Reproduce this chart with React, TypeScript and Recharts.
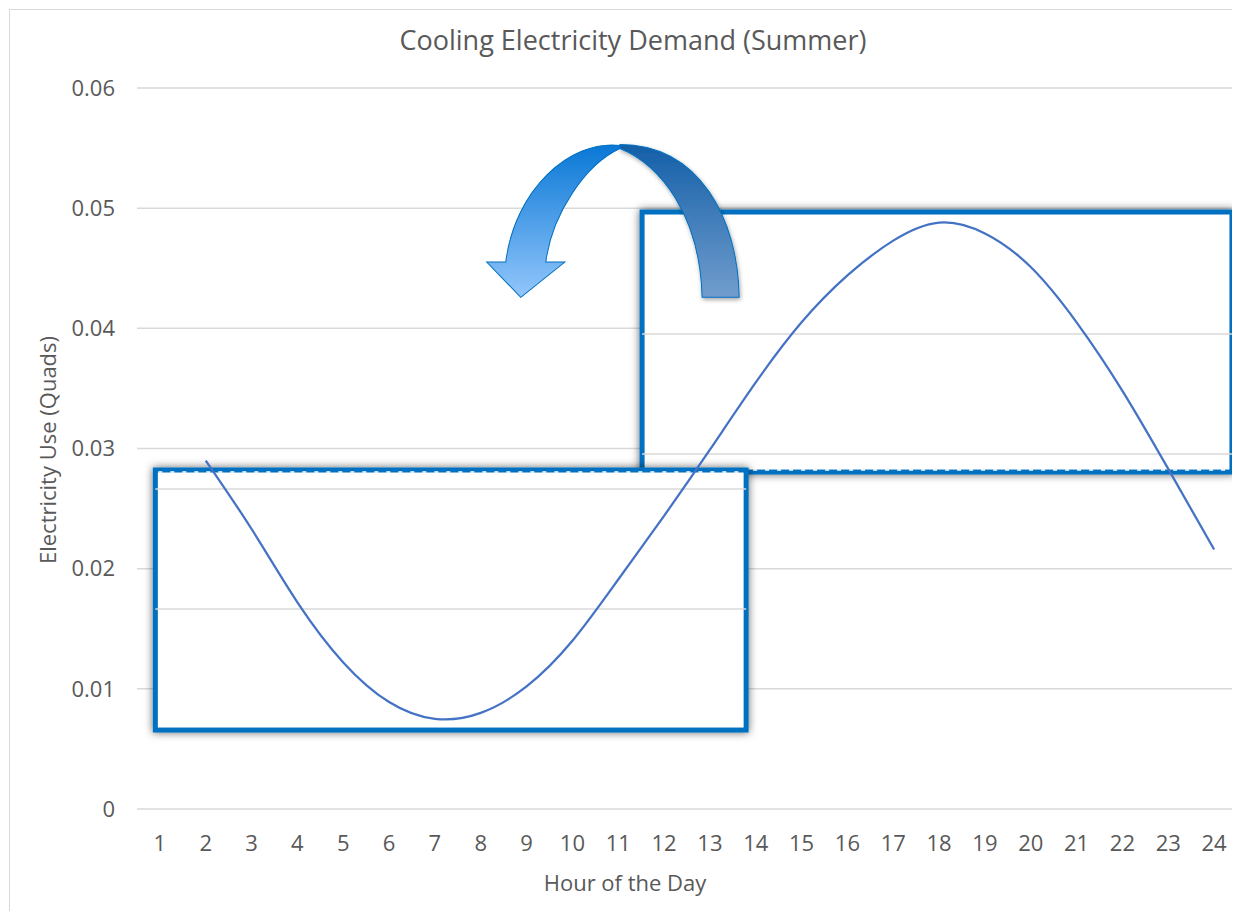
import React from 'react';
import { LineChart, Line, XAxis, YAxis, CartesianGrid, ReferenceArea, ReferenceLine } from 'recharts';

const hours = [1, 2, 3, 4, 5, 6, 7, 8, 9, 10, 11, 12, 13, 14, 15, 16, 17, 18, 19, 20, 21, 22, 23, 24];
const demand = [
  null, 0.0290, 0.0233, 0.0172, 0.0122, 0.0089, 0.0075, 0.0080, 0.0102, 0.0140, 0.0191, 0.0244,
  0.0299, 0.0355, 0.0405, 0.0444, 0.0473, 0.0488, 0.0479, 0.0451, 0.0405, 0.0348, 0.0283, 0.0216,
];
const yTicks = [0, 0.01, 0.02, 0.03, 0.04, 0.05, 0.06];

// the two highlight boxes (off-peak / peak window), in hour + quad units
const offPeakBox = { x1: 0.9, x2: 13.79, y1: 0.00657, y2: 0.02821 };
const peakBox = { x1: 11.52, x2: 24.39, y1: 0.02804, y2: 0.04968 };
const offPeakInnerGrid = [0.02663, 0.01664];
const peakInnerGrid = [0.03953, 0.02954];
const arrowBox = { x1: 8.13, x2: 13.66, y1: 0.0425, y2: 0.0553 };

const data = hours.map((h, i) => ({ hour: h, demand: demand[i] }));

const FONT = '"Open Sans", sans-serif';
const GREY = '#595959';
const BOX_BLUE = '#0070C0';

const makeBox = (id: string, dashedEdge: 'top' | 'bottom') => (props: any) => {
  const { x, y, width, height } = props;
  const ey = dashedEdge === 'top' ? y + 2 : y + height - 2;
  return (
    <g>
      <defs>
        <filter id={id} x="-5%" y="-10%" width="110%" height="120%">
          <feDropShadow dx="0" dy="0" stdDeviation="4" floodColor="#000" floodOpacity="0.6" />
        </filter>
      </defs>
      <rect x={x} y={y} width={width} height={height} fill="#fff" stroke={BOX_BLUE} strokeWidth={5} filter={`url(#${id})`} />
      <line x1={x + 3} x2={x + width - 3} y1={ey} y2={ey} stroke="#fff" strokeWidth={1.5} strokeDasharray="4 8" />
    </g>
  );
};

const ArrowShape = (props: any) => {
  const { x, y, width, height } = props;
  return (
    <g transform={`translate(${x},${y}) scale(${width / 253},${height / 153})`}>
      <defs>
        <linearGradient id="arrowLeft" x1="0" y1="0" x2="0" y2="1">
          <stop offset="0%" stopColor="#0a78d6" />
          <stop offset="100%" stopColor="#93c6fb" />
        </linearGradient>
        <linearGradient id="arrowRight" x1="0" y1="0" x2="0" y2="1">
          <stop offset="0%" stopColor="#145fa8" />
          <stop offset="100%" stopColor="#719dcd" />
        </linearGradient>
        <filter id="arrowShadow" x="-10%" y="-10%" width="120%" height="130%">
          <feDropShadow dx="1" dy="2" stdDeviation="2" floodColor="#000" floodOpacity="0.35" />
        </filter>
      </defs>
      <path
        d="M 133 4 C 173 20 213 70 215 152 L 252 152 C 251 75 213 0 133 0 Z"
        fill="url(#arrowRight)"
        stroke={BOX_BLUE}
        strokeWidth={1}
        filter="url(#arrowShadow)"
      />
      <path
        d="M 34 152 L 78 117 L 59 117 C 65 70 98 20 133 4 L 133 1 C 83 -5 28 45 19 117 L 0 117 Z"
        fill="url(#arrowLeft)"
        stroke={BOX_BLUE}
        strokeWidth={1}
      />
    </g>
  );
};

export default function App() {
  return (
    <div style={{ position: 'relative', width: 1232, height: 903, fontFamily: FONT }}>
      <div
        style={{
          position: 'absolute', left: 1, top: 1, width: 1231, height: 902,
          borderTop: '1px solid #d9d9d9', borderLeft: '1px solid #d9d9d9',
        }}
      />
      <LineChart
        width={1232}
        height={903}
        data={data}
        margin={{ top: 80, right: 3, left: 0, bottom: 0 }}
        style={{ position: 'absolute', left: 0, top: 0 }}
      >
        <CartesianGrid vertical={false} stroke="#d9d9d9" strokeWidth={1.5} />
        <XAxis
          dataKey="hour"
          type="number"
          domain={[0.5, 24.5]}
          ticks={hours}
          axisLine={false}
          tickLine={false}
          tickSize={0}
          tickMargin={26}
          height={102}
          tick={{ fill: GREY, fontSize: 22, fontFamily: FONT }}
        />
        <YAxis
          domain={[0, 0.06]}
          ticks={yTicks}
          width={129}
          axisLine={false}
          tickLine={false}
          tickSize={0}
          tickMargin={22}
          tickFormatter={(v: number) => (v === 0 ? '0' : v.toFixed(2))}
          tick={{ fill: GREY, fontSize: 22, fontFamily: FONT }}
        />
        <ReferenceArea {...peakBox} zIndex={100} shape={makeBox('peakShadow', 'bottom')} />
        {peakInnerGrid.map((v) => (
          <ReferenceLine
            key={`p${v}`}
            zIndex={110}
            segment={[{ x: peakBox.x1, y: v }, { x: peakBox.x2, y: v }]}
            stroke="#d9d9d9"
            strokeWidth={1.5}
          />
        ))}
        <ReferenceArea {...offPeakBox} zIndex={120} shape={makeBox('offPeakShadow', 'top')} />
        {offPeakInnerGrid.map((v) => (
          <ReferenceLine
            key={`o${v}`}
            zIndex={130}
            segment={[{ x: offPeakBox.x1, y: v }, { x: offPeakBox.x2, y: v }]}
            stroke="#d9d9d9"
            strokeWidth={1.5}
          />
        ))}
        <Line
          type="natural"
          dataKey="demand"
          stroke="#4472C4"
          strokeWidth={2.25}
          dot={false}
          activeDot={false}
          connectNulls={false}
          isAnimationActive={false}
          zIndex={400}
        />
        <ReferenceArea {...arrowBox} zIndex={450} shape={ArrowShape} />
        <text x={625} y={42} textAnchor="middle" fontSize={27} fill={GREY} fontFamily={FONT}>
          Cooling Electricity Demand (Summer)
        </text>
        <text
          x={39}
          y={442}
          textAnchor="middle"
          dominantBaseline="central"
          fontSize={22}
          fill={GREY}
          fontFamily={FONT}
          transform="rotate(-90 39 442)"
        >
          Electricity Use (Quads)
        </text>
        <text x={617} y={874} textAnchor="middle" dominantBaseline="central" fontSize={22} fill={GREY} fontFamily={FONT}>
          Hour of the Day
        </text>
      </LineChart>
    </div>
  );
}
